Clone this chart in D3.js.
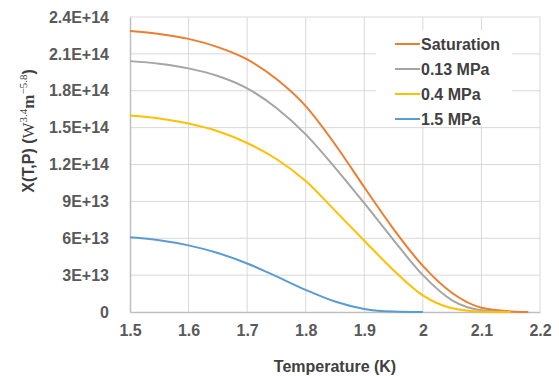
<!DOCTYPE html>
<html>
<head>
<meta charset="utf-8">
<script src="https://cdn.jsdelivr.net/npm/d3@7"></script>
<style>
  body { margin: 0; background: #fff; }
  text { font-family: "Liberation Sans", Arial, sans-serif; }
</style>
</head>
<body>
<svg id="chart" width="559" height="376"></svg>
<script>
var tempK = [1.5, 1.55, 1.6, 1.65, 1.7, 1.75, 1.8, 1.85, 1.9, 1.95, 2.0, 2.05, 2.1, 2.15, 2.18]

// X(T,P) values, in units of 1E+13
var saturation = [22.86, 22.62, 22.22, 21.55, 20.55, 18.95, 16.75, 13.65, 10.15, 6.75, 3.75, 1.55, 0.35, 0.05, 0]
var mpa013 = [20.41, 20.2, 19.82, 19.2, 18.2, 16.6, 14.45, 11.75, 8.85, 5.85, 3.0, 0.95, 0.15, 0, null]
var mpa04 = [15.99, 15.75, 15.33, 14.7, 13.75, 12.45, 10.65, 8.25, 5.8, 3.4, 1.35, 0.3, 0.03, 0, null]
var mpa15 = [6.08, 5.84, 5.42, 4.8, 3.95, 2.9, 1.8, 0.85, 0.25, 0.04, 0, null, null, null, null]

var seriesNames = ["Saturation", "0.13 MPa", "0.4 MPa", "1.5 MPa"]
var seriesColors = ["#ED7D31", "#A5A5A5", "#FFC000", "#5B9BD5"]

var xTicks = [1.5, 1.6, 1.7, 1.8, 1.9, 2.0, 2.1, 2.2]
var xTickLabels = ["1.5", "1.6", "1.7", "1.8", "1.9", "2", "2.1", "2.2"]
var yTicks = [0, 3e13, 6e13, 9e13, 1.2e14, 1.5e14, 1.8e14, 2.1e14, 2.4e14]
var yTickLabels = ["0", "3E+13", "6E+13", "9E+13", "1.2E+14", "1.5E+14", "1.8E+14", "2.1E+14", "2.4E+14"]

var svg = d3.select("#chart")
var pLeft = 130, pRight = 540, pTop = 17, pBottom = 312

var x = d3.scaleLinear().domain([1.5, 2.2]).range([pLeft, pRight])
var y = d3.scaleLinear().domain([0, 2.4e14]).range([pBottom, pTop])

// gridlines
svg.append("g").selectAll("line")
  .data(xTicks.slice(1))
  .enter().append("line")
    .attr("x1", function(d){ return x(d) }).attr("x2", function(d){ return x(d) })
    .attr("y1", pTop).attr("y2", pBottom)
    .style("stroke", "#d9d9d9").style("stroke-width", 1)
svg.append("g").selectAll("line")
  .data(yTicks.slice(1))
  .enter().append("line")
    .attr("x1", pLeft).attr("x2", pRight)
    .attr("y1", function(d){ return y(d) }).attr("y2", function(d){ return y(d) })
    .style("stroke", "#d9d9d9").style("stroke-width", 1)

// axes
var xAxis = svg.append("g")
  .attr("transform", "translate(0," + pBottom + ")")
  .call(d3.axisBottom(x).tickValues(xTicks).tickSize(0).tickPadding(13)
    .tickFormat(function(d, i){ return xTickLabels[i] }))
xAxis.select(".domain").style("stroke", "#bfbfbf").style("stroke-width", 1.5)

var yAxis = svg.append("g")
  .attr("transform", "translate(" + pLeft + ",0)")
  .call(d3.axisLeft(y).tickValues(yTicks).tickSize(0).tickPadding(21)
    .tickFormat(function(d, i){ return yTickLabels[i] }))
yAxis.select(".domain").style("stroke", "#bfbfbf").style("stroke-width", 1.5)

svg.selectAll(".tick text")
  .style("font-family", "'Liberation Sans', Arial, sans-serif")
  .style("font-size", "16px")
  .style("font-weight", "bold")
  .style("fill", "#595959")

// curves
var allSeries = [saturation, mpa013, mpa04, mpa15]
var line = d3.line()
  .defined(function(d){ return d[1] !== null })
  .x(function(d){ return x(d[0]) })
  .y(function(d){ return y(d[1] * 1e13) })
  .curve(d3.curveMonotoneX)

allSeries.forEach(function(vals, i){
  var pts = tempK.map(function(t, j){ return [t, vals[j]] })
  svg.append("path")
    .datum(pts)
    .attr("d", line)
    .style("fill", "none")
    .style("stroke", seriesColors[i])
    .style("stroke-width", 2)
})

// legend with white box
svg.append("rect")
  .attr("x", 376).attr("y", 30).attr("width", 136).attr("height", 96)
  .style("fill", "#fff")

seriesNames.forEach(function(name, i){
  var ly = 44 + i * 25
  svg.append("line")
    .attr("x1", 395).attr("x2", 420)
    .attr("y1", ly).attr("y2", ly)
    .style("stroke", seriesColors[i]).style("stroke-width", 2)
  svg.append("text")
    .attr("x", 421).attr("y", ly)
    .attr("dy", "0.35em")
    .style("font-size", "16px").style("font-weight", "bold")
    .style("fill", "#404040")
    .text(name)
})

// axis titles
svg.append("text")
  .attr("x", 335).attr("y", 366)
  .attr("dy", "0.35em")
  .attr("text-anchor", "middle")
  .style("font-size", "16px").style("font-weight", "bold")
  .style("fill", "#404040")
  .text("Temperature (K)")

var yt = svg.append("text")
  .attr("transform", "translate(34,131) rotate(-90)")
  .attr("text-anchor", "middle")
  .style("font-size", "16px")
  .style("fill", "#404040")
yt.append("tspan").style("font-weight", "bold").text("X(T,P) (")
yt.append("tspan").style("font-family", "'Liberation Serif', 'DejaVu Serif', serif").style("font-size", "17px").text("W")
yt.append("tspan").attr("dy", "-7").style("font-family", "'Liberation Serif', serif").style("font-size", "11px").text("3.4")
yt.append("tspan").attr("dy", "7").style("font-family", "'Liberation Serif', serif").style("font-size", "17px").style("font-weight", "bold").text("m")
yt.append("tspan").attr("dy", "-7").style("font-family", "'Liberation Serif', serif").style("font-size", "11px").text("\u22125.8")
yt.append("tspan").attr("dy", "7").style("font-weight", "bold").text(")")
</script>
</body>
</html>
